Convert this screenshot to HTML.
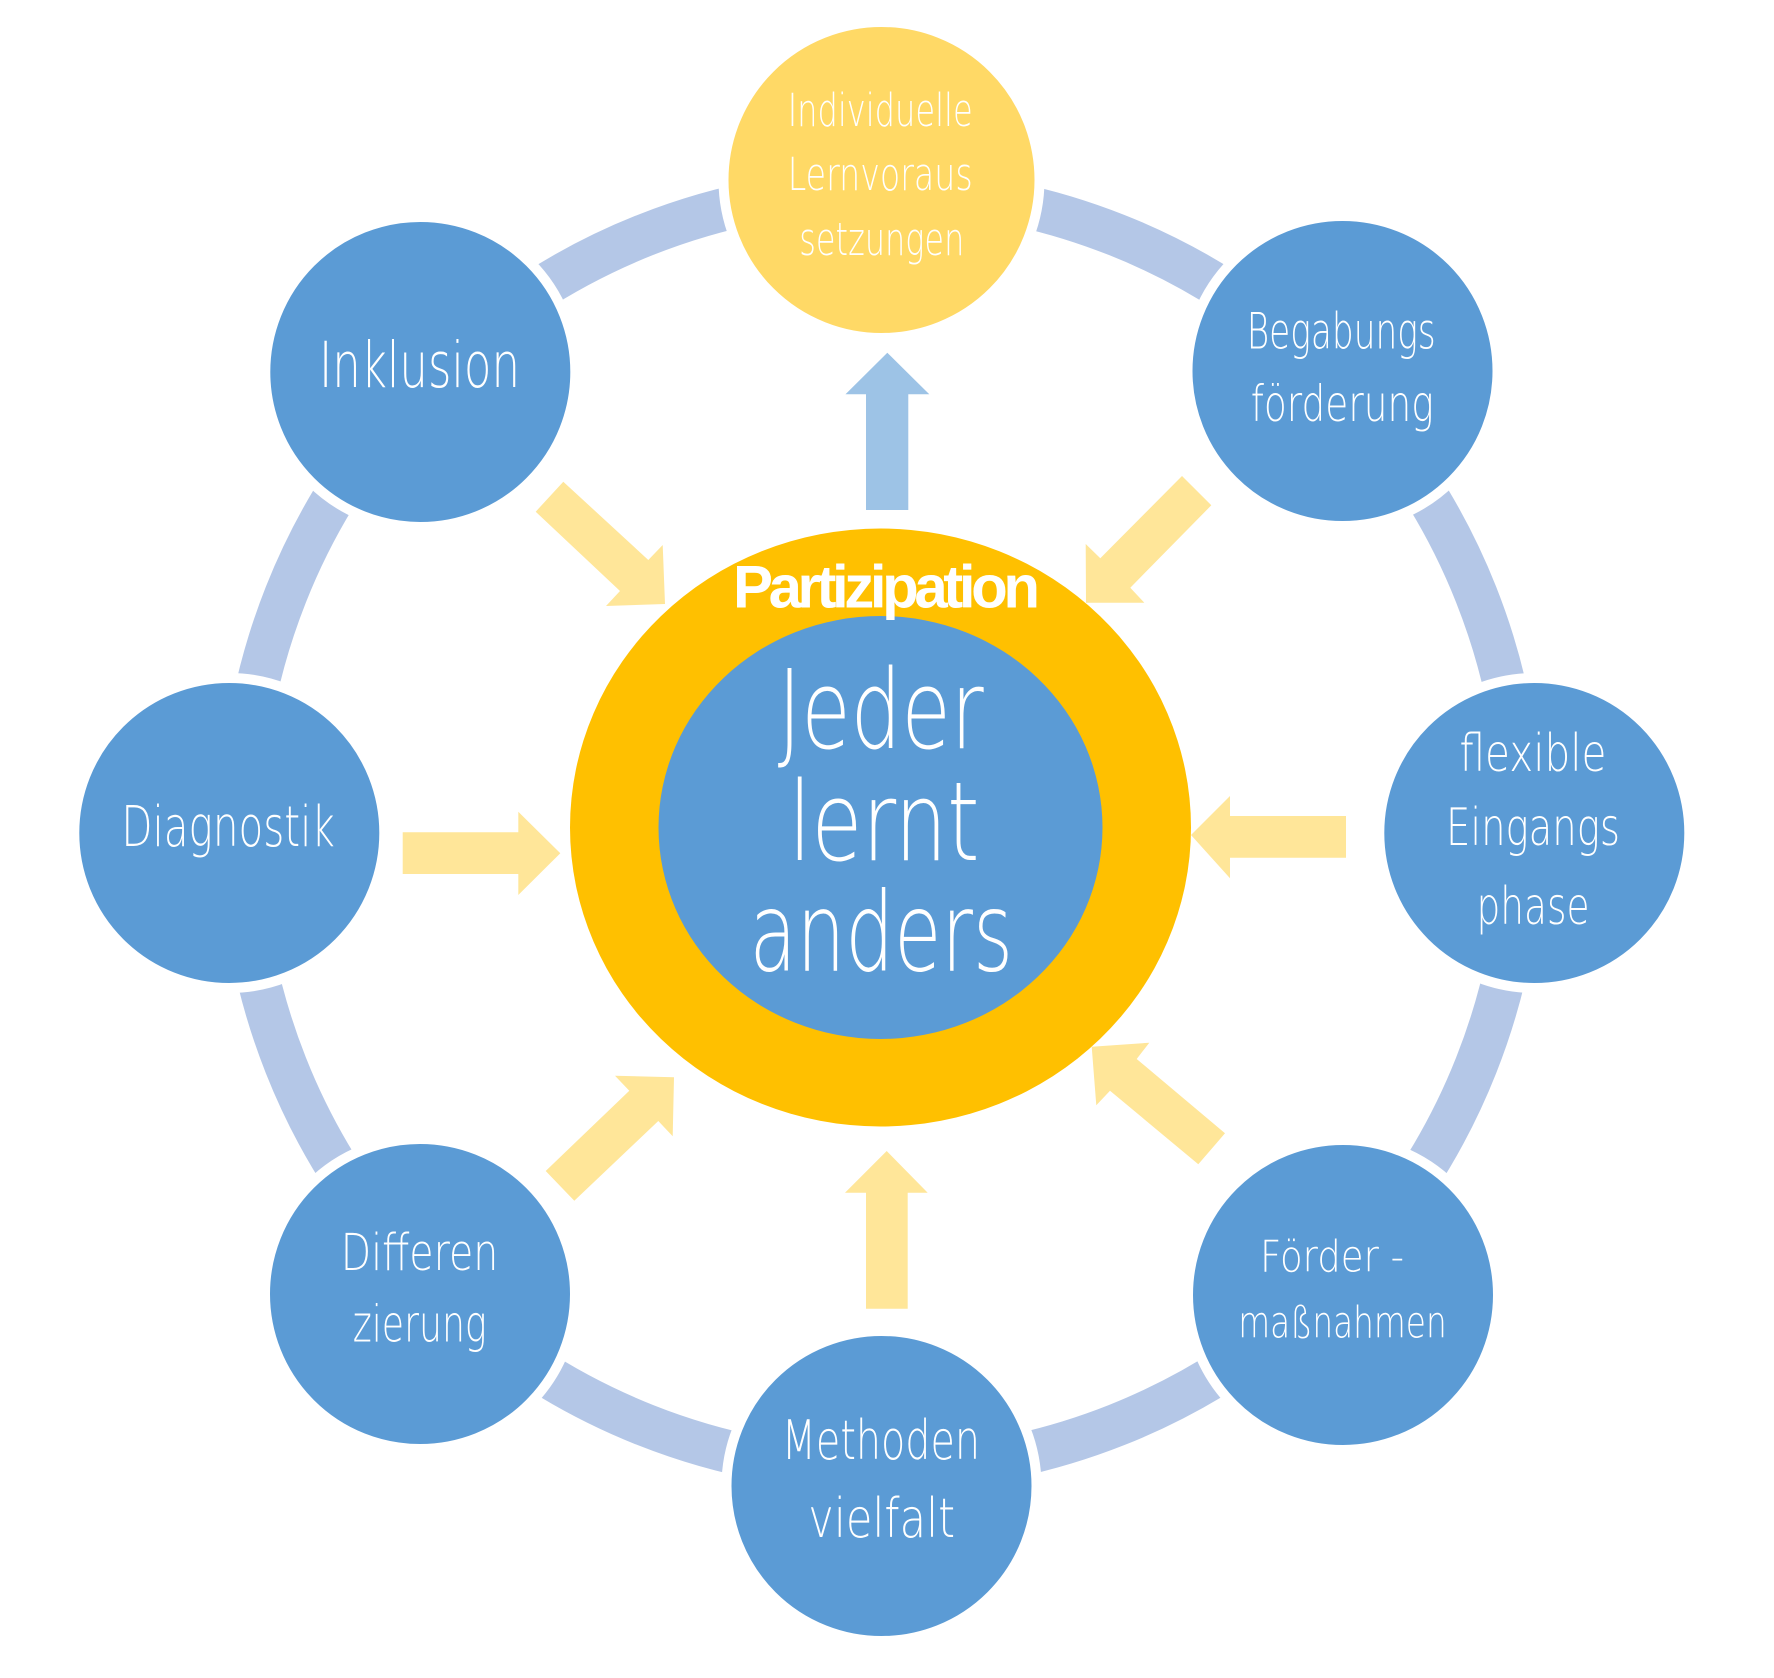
<!DOCTYPE html>
<html>
<head>
<meta charset="utf-8">
<style>
  html, body { margin: 0; padding: 0; background: #ffffff; }
  body { width: 1774px; height: 1678px; overflow: hidden; }
  svg { display: block; }
  .t { fill: #ffffff; font-family: "DejaVu Sans Light", "Liberation Sans", sans-serif; font-weight: 200; }
  .p { fill: #ffffff; font-family: "Liberation Sans", Arial, sans-serif; font-weight: bold; }
</style>
</head>
<body>
<svg width="1774" height="1678" viewBox="0 0 1774 1678" xmlns="http://www.w3.org/2000/svg">
  <rect x="0" y="0" width="1774" height="1678" fill="#ffffff"/>

  <!-- connecting ring -->
  <circle cx="881" cy="830" r="640" fill="none" stroke="#B4C7E7" stroke-width="43"/>

  <!-- central circles -->
  <ellipse cx="880.5" cy="827.5" rx="310.5" ry="299" fill="#FFC000"/>
  <ellipse cx="880.5" cy="827.5" rx="222" ry="211.5" fill="#5B9BD5"/>

  <!-- arrows -->
  <g fill="#FFE699">
    <!-- Inklusion -->
    <polygon points="563.3,481.7 648.3,560 662.7,545 665,604 606,606 620,591 535.7,511.7"/>
    <!-- Begabungs -->
    <polygon points="1182,476 1100.3,558.3 1085.7,544 1086,602.7 1144.3,602.7 1130.3,587.7 1211.3,505.3"/>
    <!-- Diagnostik -->
    <polygon points="402.7,832.3 518.3,832.3 518.3,811.7 560.3,853.3 518.3,895 518.3,874 402.7,874"/>
    <!-- flexible -->
    <polygon points="1191,835 1230,796 1230,816 1346,816 1346,857.7 1230,857.7 1230,878.3"/>
    <!-- Differenzierung -->
    <polygon points="545.7,1171 629.3,1090.7 615,1075.7 674,1077.3 672.7,1136.3 658.3,1121 574.3,1200.7"/>
    <!-- Methoden -->
    <polygon points="886.7,1151 927.7,1192.7 907.7,1192.7 907.7,1308.7 866,1308.7 866,1192.7 845,1192.7"/>
    <!-- Foerder -->
    <polygon points="1225,1133.3 1136.7,1059 1149.3,1042.7 1091.7,1046.7 1096.3,1105.3 1110,1090.7 1198.3,1164.3"/>
  </g>
  <!-- top blue arrow -->
  <polygon fill="#9DC3E6" points="887.3,352.7 929.3,394.3 908.3,394.3 908.3,510 866,510 866,394.3 845.5,394.3"/>

  <!-- nodes -->
  <g stroke="#ffffff" stroke-width="10">
    <circle cx="881.5" cy="180" r="158" fill="#FFD966"/>
    <circle cx="1342.5" cy="371" r="155" fill="#5B9BD5"/>
    <circle cx="1534.3" cy="833" r="155" fill="#5B9BD5"/>
    <circle cx="1343" cy="1295" r="155" fill="#5B9BD5"/>
    <circle cx="881.5" cy="1486" r="155" fill="#5B9BD5"/>
    <circle cx="420" cy="1294" r="155" fill="#5B9BD5"/>
    <circle cx="229.3" cy="833" r="155" fill="#5B9BD5"/>
    <circle cx="420.3" cy="372" r="155" fill="#5B9BD5"/>
  </g>

  <!-- node labels -->
  <text class="t" x="787.7" y="126" font-size="45" textLength="185" lengthAdjust="spacingAndGlyphs">Individuelle</text>
  <text class="t" x="787.7" y="190" font-size="45" textLength="185" lengthAdjust="spacingAndGlyphs">Lernvoraus</text>
  <text class="t" x="799.3" y="255" font-size="45" textLength="165" lengthAdjust="spacingAndGlyphs">setzungen</text>

  <text class="t" x="319" y="387" font-size="63" textLength="201" lengthAdjust="spacingAndGlyphs">Inklusion</text>

  <text class="t" x="1246.7" y="348.5" font-size="50" textLength="189" lengthAdjust="spacingAndGlyphs">Begabungs</text>
  <text class="t" x="1250.7" y="421" font-size="50" textLength="183" lengthAdjust="spacingAndGlyphs">förderung</text>

  <text class="t" x="1459.5" y="771" font-size="52" textLength="147" lengthAdjust="spacingAndGlyphs">flexible</text>
  <text class="t" x="1446" y="845" font-size="52" textLength="174" lengthAdjust="spacingAndGlyphs">Eingangs</text>
  <text class="t" x="1476.5" y="924" font-size="52" textLength="113" lengthAdjust="spacingAndGlyphs">phase</text>

  <text class="t" x="121.4" y="846" font-size="56" textLength="213.4" lengthAdjust="spacingAndGlyphs">Diagnostik</text>

  <text class="t" x="340.7" y="1270" font-size="51" textLength="157.6" lengthAdjust="spacingAndGlyphs">Differen</text>
  <text class="t" x="352.7" y="1341.7" font-size="51" textLength="134" lengthAdjust="spacingAndGlyphs">zierung</text>

  <text class="t" x="781.7" y="1459" font-size="54" textLength="198.3" lengthAdjust="spacingAndGlyphs">Methoden</text>
  <text class="t" x="808.3" y="1537" font-size="54" textLength="146.7" lengthAdjust="spacingAndGlyphs">vielfalt</text>

  <text class="t" x="1260" y="1271.7" font-size="44" textLength="144" lengthAdjust="spacingAndGlyphs">Förder -</text>
  <text class="t" x="1238.3" y="1337.3" font-size="44" textLength="208.4" lengthAdjust="spacingAndGlyphs">maßnahmen</text>

  <!-- center labels -->
  <text class="p" x="733" y="607.5" font-size="60" textLength="307" lengthAdjust="spacing">Partizipation</text>
  <text class="t" x="777.7" y="748" font-size="110" textLength="206" lengthAdjust="spacingAndGlyphs">Jeder</text>
  <text class="t" x="788.5" y="860" font-size="110" textLength="191" lengthAdjust="spacingAndGlyphs">lernt</text>
  <text class="t" x="749.5" y="970.5" font-size="110" textLength="263.5" lengthAdjust="spacingAndGlyphs">anders</text>
</svg>
</body>
</html>
